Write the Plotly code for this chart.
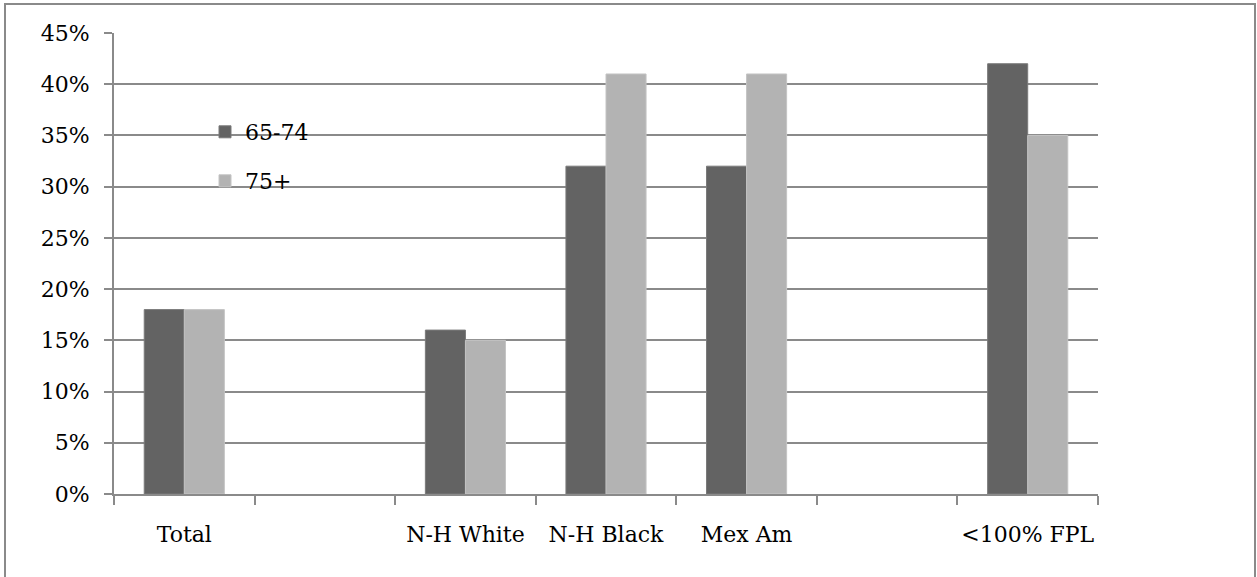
import plotly.graph_objects as go

# Categories (two blank spacer slots keep the original grouping)
categories = ["Total", " ", "N-H White", "N-H Black", "Mex Am", "  ", "<100% FPL"]
age_65_74 = [18, None, 16, 32, 32, None, 42]
age_75_plus = [18, None, 15, 41, 41, None, 35]
y_ticks = [0, 5, 10, 15, 20, 25, 30, 35, 40, 45]
y_tick_labels = [f"{v}%" for v in y_ticks]

W, H = 1257, 577
L, R, T, B = 114, 1098, 33, 494
FONT = "DejaVu Serif, Liberation Serif, serif"
FS = 22

fig = go.Figure()
fig.add_trace(go.Bar(
    x=categories, y=age_65_74, name="65-74",
    marker=dict(color="#636363", line=dict(color="#7a7a7a", width=1)),
    legend="legend", showlegend=True,
))
fig.add_trace(go.Bar(
    x=categories, y=age_75_plus, name="75+",
    marker=dict(color="#b3b3b3", line=dict(color="#c4c4c4", width=1)),
    legend="legend2", showlegend=True,
))

def px_x(p):
    return (p - L) / (R - L)

def px_y(p):
    return (B - p) / (B - T)

legend_style = dict(
    font=dict(family=FONT, size=FS, color="black"),
    bgcolor="rgba(0,0,0,0)",
    xanchor="left", yanchor="middle",
    itemwidth=30,
)

fig.update_layout(
    width=W, height=H,
    margin=dict(l=L, r=W - R, t=T, b=H - B, autoexpand=False),
    paper_bgcolor="white", plot_bgcolor="white",
    barmode="group", bargap=0.43, bargroupgap=0,
    font=dict(family=FONT, size=FS, color="black"),
    legend=dict(x=px_x(205), y=px_y(132), **legend_style),
    legend2=dict(x=px_x(205), y=px_y(181), **legend_style),
    xaxis=dict(
        type="category", tickson="boundaries", tickangle=0, automargin=False,
        ticks="outside", ticklen=9, tickwidth=2, tickcolor="#8a8a8a",
        showline=True, linecolor="#8a8a8a", linewidth=2,
        showgrid=False,
        ticklabelstandoff=20,
        tickfont=dict(family=FONT, size=FS, color="black"),
    ),
    yaxis=dict(
        range=[0, 45], tickvals=y_ticks, ticktext=y_tick_labels,
        automargin=False,
        ticks="outside", ticklen=8, tickwidth=2, tickcolor="#8a8a8a",
        showline=True, linecolor="#8a8a8a", linewidth=2,
        showgrid=True, gridcolor="#8a8a8a", gridwidth=2,
        zeroline=False,
        ticklabelstandoff=10,
        tickfont=dict(family=FONT, size=FS, color="black"),
    ),
    shapes=[dict(
        type="rect", xref="paper", yref="paper",
        x0=px_x(5), x1=px_x(1255), y0=px_y(590), y1=px_y(4),
        line=dict(color="#8a8a8a", width=2), fillcolor="rgba(0,0,0,0)",
        layer="below",
    )],
)

fig.write_html("out.html")
